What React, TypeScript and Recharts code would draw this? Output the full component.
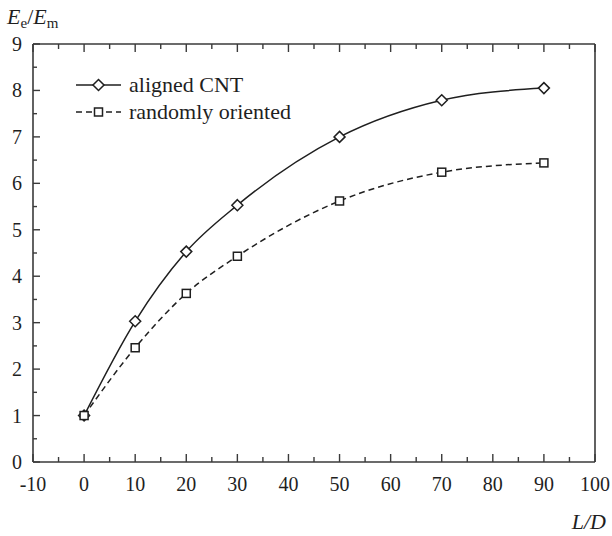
import { LineChart, Line, XAxis, YAxis } from "recharts";

// Modulus ratio Ee/Em against fibre aspect ratio L/D
const aspectRatio = [0, 10, 20, 30, 50, 70, 90];
const alignedCNT = [1.0, 3.03, 4.53, 5.53, 7.0, 7.79, 8.05];
const randomlyOriented = [1.0, 2.46, 3.63, 4.43, 5.62, 6.24, 6.44];

const xTicks = [-10, -5, 0, 5, 10, 15, 20, 25, 30, 35, 40, 45, 50, 55, 60, 65, 70, 75, 80, 85, 90, 95, 100];
const yTicks = [0, 0.5, 1, 1.5, 2, 2.5, 3, 3.5, 4, 4.5, 5, 5.5, 6, 6.5, 7, 7.5, 8, 8.5, 9];

const data = aspectRatio.map((ld, i) => ({
  ld,
  aligned: alignedCNT[i],
  random: randomlyOriented[i],
}));

const W = 612;
const H = 536;
const FONT = '"Liberation Serif", "Times New Roman", serif';
const INK = "#1f1f1f";
const FRAME = "#3a3a3a";
const TICK_FS = 20;

const isMajorX = (v: number) => v % 10 === 0;
const isMajorY = (v: number) => Number.isInteger(v);

// ticks point into the plot; labels only on the major ones
const BottomTick = ({ x, y, payload }: any) => {
  const v = payload.value;
  const major = isMajorX(v);
  return (
    <g>
      <line x1={x} x2={x} y1={y} y2={y - (major ? 8 : 5)} stroke={FRAME} strokeWidth={1.4} />
      {major && (
        <text x={x} y={y + 29} textAnchor="middle" fontFamily={FONT} fontSize={TICK_FS} fill={INK}>
          {v}
        </text>
      )}
    </g>
  );
};

const TopTick = ({ x, y, payload }: any) => {
  const major = isMajorX(payload.value);
  return <line x1={x} x2={x} y1={y} y2={y + (major ? 8 : 5)} stroke={FRAME} strokeWidth={1.4} />;
};

const LeftTick = ({ x, y, payload }: any) => {
  const v = payload.value;
  const major = isMajorY(v);
  return (
    <g>
      <line x1={x} x2={x + (major ? 7 : 4)} y1={y} y2={y} stroke={FRAME} strokeWidth={1.4} />
      {major && (
        <text x={x - 11} y={y + 7} textAnchor="end" fontFamily={FONT} fontSize={TICK_FS} fill={INK}>
          {v}
        </text>
      )}
    </g>
  );
};

const RightTick = ({ x, y, payload }: any) => {
  const major = isMajorY(payload.value);
  return <line x1={x} x2={x - (major ? 7 : 4)} y1={y} y2={y} stroke={FRAME} strokeWidth={1.4} />;
};

const Diamond = ({ cx, cy, r = 5.5 }: any) => (
  <polygon
    points={`${cx},${cy - r} ${cx + r},${cy} ${cx},${cy + r} ${cx - r},${cy}`}
    fill="#fff"
    stroke={INK}
    strokeWidth={1.5}
  />
);

const Square = ({ cx, cy, r = 4 }: any) => (
  <rect x={cx - r} y={cy - r} width={2 * r} height={2 * r} fill="#fff" stroke={INK} strokeWidth={1.5} />
);

const series = [
  { key: "aligned", name: "aligned CNT", dash: undefined, Marker: Diamond },
  { key: "random", name: "randomly oriented", dash: "6 4", Marker: Square },
];

const axisLine = { stroke: FRAME, strokeWidth: 1.6 };

export default function App() {
  return (
    <div
      style={{ position: "absolute", left: 0, top: 0, width: W, height: H, background: "#fff", fontFamily: FONT }}
    >
      <LineChart width={W} height={H} data={data} margin={{ top: 43, right: 16, bottom: 73, left: 32 }}>
        <XAxis
          xAxisId="bottom"
          dataKey="ld"
          type="number"
          domain={[-10, 100]}
          ticks={xTicks}
          interval={0}
          height={1}
          tickSize={0}
          tickMargin={0}
          tickLine={false}
          tick={<BottomTick />}
          axisLine={axisLine}
        />
        <XAxis
          xAxisId="top"
          orientation="top"
          dataKey="ld"
          type="number"
          domain={[-10, 100]}
          ticks={xTicks}
          interval={0}
          height={1}
          tickSize={0}
          tickMargin={0}
          tickLine={false}
          tick={<TopTick />}
          axisLine={axisLine}
        />
        <YAxis
          yAxisId="left"
          type="number"
          domain={[0, 9]}
          ticks={yTicks}
          interval={0}
          width={1}
          tickSize={0}
          tickMargin={0}
          tickLine={false}
          tick={<LeftTick />}
          axisLine={axisLine}
        />
        <YAxis
          yAxisId="right"
          orientation="right"
          type="number"
          domain={[0, 9]}
          ticks={yTicks}
          interval={0}
          width={1}
          tickSize={0}
          tickMargin={0}
          tickLine={false}
          tick={<RightTick />}
          axisLine={axisLine}
        />
        {series.map(({ key, dash, Marker }) => (
          <Line
            key={key}
            xAxisId="bottom"
            yAxisId="left"
            dataKey={key}
            type="monotone"
            stroke={INK}
            strokeWidth={1.5}
            strokeDasharray={dash}
            dot={(p: any) => <Marker key={`${key}-${p.index}`} cx={p.cx} cy={p.cy} />}
            isAnimationActive={false}
          />
        ))}
      </LineChart>

      <svg width={W} height={H} style={{ position: "absolute", left: 0, top: 0, pointerEvents: "none" }}>
        {/* y-axis title */}
        <text x={7} y={24} fontSize={22} fontFamily={FONT} fill={INK}>
          <tspan fontStyle="italic">E</tspan>
          <tspan fontSize={15} dy={4}>e</tspan>
          <tspan dy={-4}>/</tspan>
          <tspan fontStyle="italic">E</tspan>
          <tspan fontSize={15} dy={4}>m</tspan>
        </text>
        {/* x-axis title */}
        <text x={606} y={529} fontSize={22} fontStyle="italic" textAnchor="end" fontFamily={FONT} fill={INK}>
          L/D
        </text>

        {/* legend */}
        {series.map(({ key, name, dash, Marker }, i) => {
          const cy = 85 + i * 27;
          return (
            <g key={key}>
              <line x1={76} x2={121} y1={cy} y2={cy} stroke={INK} strokeWidth={1.5} strokeDasharray={dash} />
              <Marker cx={98.5} cy={cy} />
              <text x={129} y={cy + 7} fontSize={22} fontFamily={FONT} fill={INK}>
                {name}
              </text>
            </g>
          );
        })}
      </svg>
    </div>
  );
}
